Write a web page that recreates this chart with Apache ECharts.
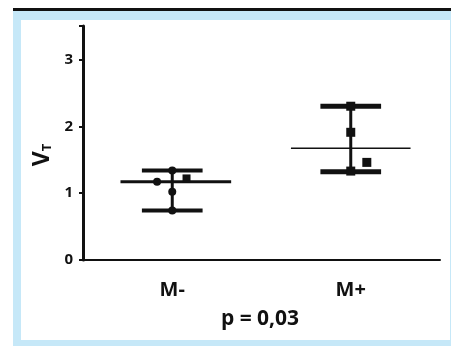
<!DOCTYPE html>
<html><head><meta charset="utf-8">
<script src="https://cdn.jsdelivr.net/npm/echarts@6/dist/echarts.min.js"></script>
<style>html,body{margin:0;padding:0;background:#fff}#c{width:451px;height:346px}</style>
</head><body><div id="c"></div>
<script>
const categories = ['M-', 'M+'];
const yTicks = [0, 1, 2, 3];
// summary per group: mean, lower, upper
const groupMeans = [1.17, 1.67];
const groupLow = [0.74, 1.32];
const groupHigh = [1.34, 2.30];
// individual points: jitter (in category units), value
const ptsMinusJitter = [0, -0.085, 0, 0];
const ptsMinusValue = [1.34, 1.17, 1.02, 0.74];
const sqMinusJitter = [0.08];
const sqMinusValue = [1.22];
const ptsPlusJitter = [0, 0, 0.09, 0];
const ptsPlusValue = [2.30, 1.91, 1.46, 1.33];

const chart = echarts.init(document.getElementById('c'), null, {renderer: 'canvas'});
const font = '"Open Sans", "DejaVu Sans", sans-serif';

function toXY(g, jit, val) { return jit.map((j, i) => [g + 0.5 + j, val[i]]); }

const summaryData = categories.map((c, i) => [i, groupMeans[i], groupLow[i], groupHigh[i]]);

chart.setOption({
  animation: false,
  backgroundColor: 'transparent',
  graphic: [
    {type: 'rect', shape: {x: 13, y: 8, width: 438, height: 338}, style: {fill: '#c6e8f8'}, z: -10},
    {type: 'rect', shape: {x: 13, y: 8, width: 438, height: 3}, style: {fill: '#111'}, z: -9},
    {type: 'rect', shape: {x: 21, y: 20, width: 429, height: 320}, style: {fill: '#fff'}, z: -9}
  ],
  title: {
    text: 'p = 0,03', left: 255, top: 304, textAlign: 'center',
    textStyle: {fontFamily: font, fontWeight: 'bold', fontSize: 21, color: '#111'}
  },
  grid: {left: 83, right: 11, top: 26, bottom: 86},
  xAxis: [
    {
      type: 'category', data: categories, boundaryGap: true,
      axisLine: {lineStyle: {color: '#111', width: 2}},
      axisTick: {alignWithLabel: true, length: 6, lineStyle: {color: '#111', width: 2}},
      axisLabel: {fontFamily: font, fontWeight: 'bold', fontSize: 20, color: '#111', margin: 20},
      splitLine: {show: false}
    },
    {type: 'value', min: 0, max: 2, show: false, position: 'bottom'}
  ],
  yAxis: {
    type: 'value', min: 0, max: 3.5, interval: 1,
    name: '{v|V}{t|T}', nameLocation: 'middle', nameGap: 29, nameRotate: 90,
    nameTextStyle: {padding: [0, 24, 0, 0], rich: {
      v: {fontFamily: font, fontWeight: 'bold', fontSize: 23, color: '#111'},
      t: {fontFamily: font, fontWeight: 'bold', fontSize: 13, color: '#111', verticalAlign: 'bottom', padding: [9, 0, 0, 0]}
    }},
    axisLine: {show: true, lineStyle: {color: '#111', width: 3}},
    axisTick: {show: true, length: 4, lineStyle: {color: '#111', width: 2}},
    axisLabel: {fontFamily: font, fontWeight: 'bold', fontSize: 15, color: '#111', margin: 10,
      formatter: v => yTicks.indexOf(v) >= 0 ? String(v) : ''},
    splitLine: {show: false}
  },
  series: [
    {
      type: 'custom', xAxisIndex: 1, data: summaryData, z: 3,
      renderItem: function (params, api) {
        const g = api.value(0);
        const cx = g + 0.5;
        const mean = api.value(1), lo = api.value(2), hi = api.value(3);
        const capHalf = 0.17, meanHalf = (g === 0) ? 0.31 : 0.335;
        const meanOff = (g === 0) ? 0.02 : 0;
        const pTopL = api.coord([cx - capHalf, hi]), pTopR = api.coord([cx + capHalf, hi]);
        const pLoL = api.coord([cx - capHalf, lo]), pLoR = api.coord([cx + capHalf, lo]);
        const pV1 = api.coord([cx, hi]), pV2 = api.coord([cx, lo]);
        const pM1 = api.coord([cx - meanHalf + meanOff, mean]), pM2 = api.coord([cx + meanHalf + meanOff, mean]);
        const st = w => ({stroke: '#111', lineWidth: w});
        return {type: 'group', children: [
          {type: 'line', shape: {x1: pV1[0], y1: pV1[1], x2: pV2[0], y2: pV2[1]}, style: st(3)},
          {type: 'line', shape: {x1: pTopL[0], y1: pTopL[1], x2: pTopR[0], y2: pTopR[1]}, style: st(g === 0 ? 4 : 5)},
          {type: 'line', shape: {x1: pLoL[0], y1: pLoL[1], x2: pLoR[0], y2: pLoR[1]}, style: st(g === 0 ? 4 : 5)},
          {type: 'line', shape: {x1: pM1[0], y1: pM1[1], x2: pM2[0], y2: pM2[1]}, style: st(g === 0 ? 3 : 1.5)}
        ]};
      }
    },
    {type: 'scatter', xAxisIndex: 1, data: toXY(0, ptsMinusJitter, ptsMinusValue), symbol: 'circle', symbolSize: 8,
      itemStyle: {color: '#111', opacity: 1}, z: 4},
    {type: 'scatter', xAxisIndex: 1, data: toXY(0, sqMinusJitter, sqMinusValue), symbol: 'rect', symbolSize: 8,
      itemStyle: {color: '#111', opacity: 1}, z: 4},
    {type: 'scatter', xAxisIndex: 1, data: toXY(1, ptsPlusJitter, ptsPlusValue), symbol: 'rect', symbolSize: 9,
      itemStyle: {color: '#111', opacity: 1}, z: 4}
  ]
});
</script></body></html>
